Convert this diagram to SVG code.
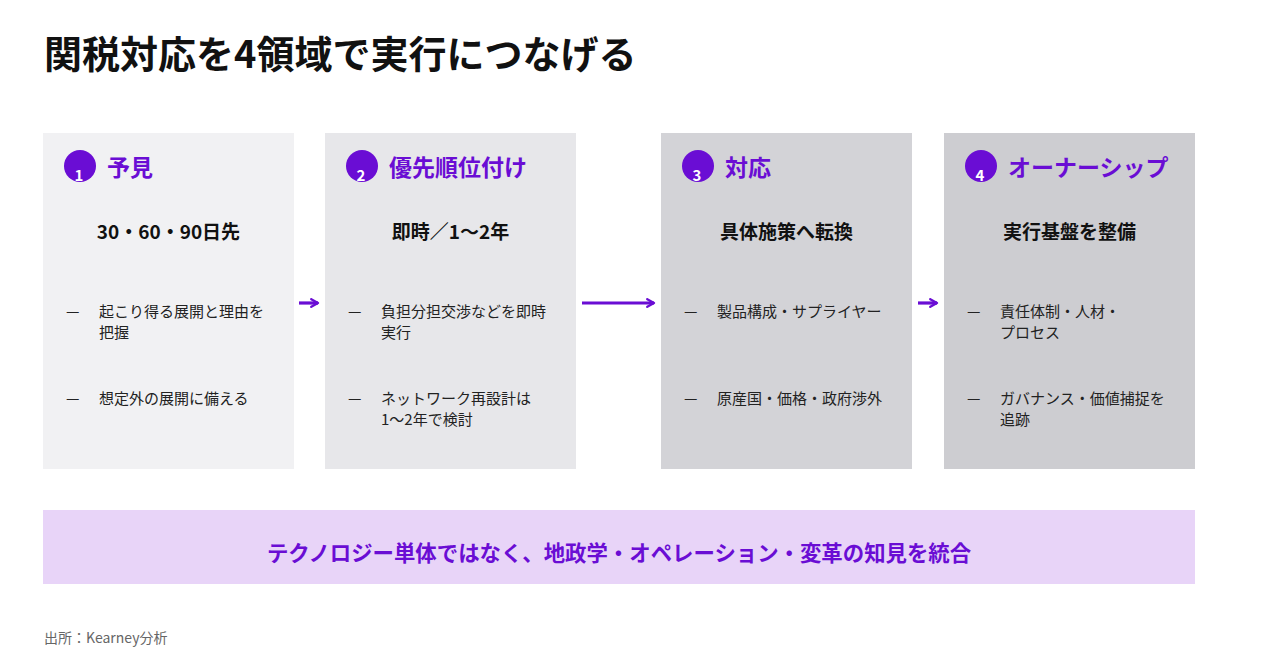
<svg xmlns="http://www.w3.org/2000/svg" width="1280" height="672" viewBox="0 0 1280 672">
<defs>
<style>
text{font-family:"Noto Sans CJK JP","Noto Sans",sans-serif}
.title{font-size:38px;font-weight:700;fill:#111}
.lbl{font-size:23px;font-weight:700;fill:#6a0dd4}
.num{font-size:15px;font-weight:700;fill:#fff}
.circ{fill:#6a0dd4}
.sub{font-size:19px;font-weight:700;fill:#111;text-anchor:middle}
.bul{font-size:15px;fill:#222}
.conn{stroke:#6a0dd4;stroke-width:3.2;fill:none}
.band{font-size:21.4px;font-weight:700;fill:#6a0dd4;text-anchor:middle}
.src{font-size:14px;fill:#666}
</style>
<marker id="ah" viewBox="0 0 10 10" refX="8" refY="5" markerWidth="3" markerHeight="3" orient="auto" markerUnits="strokeWidth">
<path d="M1,1 L8,5 L1,9" fill="none" stroke="#6a0dd4" stroke-width="2.4" stroke-linecap="round" stroke-linejoin="round"/>
</marker>
</defs>
<rect width="1280" height="672" fill="#fff"/>
<text class="title" x="44" y="68">関税対応を4領域で実行につなげる</text>

<g id="node1">
<rect x="43" y="133" width="251" height="336" fill="#f1f1f3"/>
<circle class="circ" cx="80" cy="166" r="16"/>
<text class="num" x="79" y="181" text-anchor="middle">1</text>
<text class="lbl" x="107" y="176">予見</text>
<text class="sub" x="168.5" y="239">30・60・90日先</text>
<text class="bul" x="66" y="317">—</text>
<text class="bul" x="99" y="317">起こり得る展開と理由を</text>
<text class="bul" x="99" y="338">把握</text>
<text class="bul" x="66" y="404">—</text>
<text class="bul" x="99" y="404">想定外の展開に備える</text>
</g>

<g id="node2">
<rect x="325" y="133" width="251" height="336" fill="#e7e7ea"/>
<circle class="circ" cx="362" cy="166" r="16"/>
<text class="num" x="361" y="181" text-anchor="middle">2</text>
<text class="lbl" x="389" y="176">優先順位付け</text>
<text class="sub" x="450.5" y="239">即時／1〜2年</text>
<text class="bul" x="348" y="317">—</text>
<text class="bul" x="381" y="317">負担分担交渉などを即時</text>
<text class="bul" x="381" y="338">実行</text>
<text class="bul" x="348" y="404">—</text>
<text class="bul" x="381" y="404">ネットワーク再設計は</text>
<text class="bul" x="381" y="425">1〜2年で検討</text>
</g>

<g id="node3">
<rect x="661" y="133" width="251" height="336" fill="#d3d3d7"/>
<circle class="circ" cx="698" cy="166" r="16"/>
<text class="num" x="697" y="181" text-anchor="middle">3</text>
<text class="lbl" x="725" y="176">対応</text>
<text class="sub" x="786.5" y="239">具体施策へ転換</text>
<text class="bul" x="684" y="317">—</text>
<text class="bul" x="717" y="317">製品構成・サプライヤー</text>
<text class="bul" x="684" y="404">—</text>
<text class="bul" x="717" y="404">原産国・価格・政府渉外</text>
</g>

<g id="node4">
<rect x="944" y="133" width="251" height="336" fill="#cdcdd1"/>
<circle class="circ" cx="981" cy="166" r="16"/>
<text class="num" x="980" y="181" text-anchor="middle">4</text>
<text class="lbl" x="1008" y="176">オーナーシップ</text>
<text class="sub" x="1069.5" y="239">実行基盤を整備</text>
<text class="bul" x="967" y="317">—</text>
<text class="bul" x="1000" y="317">責任体制・人材・</text>
<text class="bul" x="1000" y="338">プロセス</text>
<text class="bul" x="967" y="404">—</text>
<text class="bul" x="1000" y="404">ガバナンス・価値捕捉を</text>
<text class="bul" x="1000" y="425">追跡</text>
</g>

<g id="connectors">
<line class="conn" x1="299" y1="303" x2="318" y2="303" marker-end="url(#ah)"/>
<line class="conn" x1="582" y1="303" x2="654" y2="303" marker-end="url(#ah)"/>
<line class="conn" x1="918" y1="303" x2="937" y2="303" marker-end="url(#ah)"/>
</g>

<g id="band">
<rect x="43" y="510" width="1152" height="74" fill="#e8d4f8"/>
<text class="band" x="619" y="561">テクノロジー単体ではなく、地政学・オペレーション・変革の知見を統合</text>
</g>

<text class="src" x="44" y="643">出所：Kearney分析</text>
</svg>
